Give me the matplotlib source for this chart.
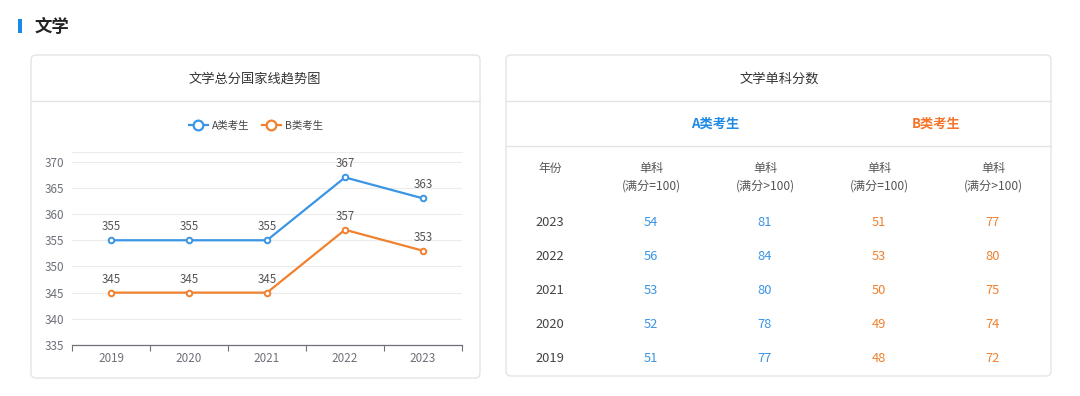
import matplotlib
matplotlib.use('Agg')
import matplotlib.pyplot as plt
from matplotlib.patches import FancyBboxPatch, Rectangle
from matplotlib.lines import Line2D

plt.rcParams['font.family'] = ['Noto Sans CJK SC', 'DejaVu Sans']

# ---- data ----
years = ['2019', '2020', '2021', '2022', '2023']
total_a = [355, 355, 355, 367, 363]
total_b = [345, 345, 345, 357, 353]

table_years = ['2023', '2022', '2021', '2020', '2019']
a_eq100 = [54, 56, 53, 52, 51]
a_gt100 = [81, 84, 80, 78, 77]
b_eq100 = [51, 53, 50, 49, 48]
b_gt100 = [77, 80, 75, 74, 72]

col_heads = ['单科\n(满分=100)', '单科\n(满分>100)', '单科\n(满分=100)', '单科\n(满分>100)']

blue = '#3a95e4'
orange = '#f0812e'
gray_txt = '#6e7079'
border = '#e4e4e4'

W, H = 1080, 396
fig = plt.figure(figsize=(W / 100, H / 100), dpi=100)

# background layer in pixel coords
bg = fig.add_axes([0, 0, 1, 1])
bg.set_xlim(0, W)
bg.set_ylim(H, 0)
bg.axis('off')

bg.add_patch(Rectangle((18, 19), 4, 14, color='#1a88e6', lw=0))
bg.text(35, 27, '文学', fontsize=12.5, fontweight='bold', color='#222222', va='center')

# panels
for x0, x1, y1 in [(31, 480, 378), (506, 1051, 376)]:
    bg.add_patch(FancyBboxPatch((x0, 55), x1 - x0, y1 - 55,
                                boxstyle='round,pad=0,rounding_size=5',
                                fc='white', ec=border, lw=1))
    bg.plot([x0, x1], [101, 101], color=border, lw=1)

bg.text(255, 79, '文学总分国家线趋势图', fontsize=9.5, color='#333333', ha='center', va='center')
bg.text(779, 79, '文学单科分数', fontsize=9.5, color='#333333', ha='center', va='center')

# table
bg.plot([506, 1051], [146, 146], color=border, lw=1)
bg.text(715, 124, 'A类考生', fontsize=9.5, fontweight='bold', color='#1f8ae6', ha='center', va='center')
bg.text(936, 124, 'B类考生', fontsize=9.5, fontweight='bold', color='#f5742a', ha='center', va='center')

col_x = [651, 765, 879, 993]
bg.text(550, 168, '年份', fontsize=8.5, color='#555555', ha='center', va='center')
for cx, head in zip(col_x, col_heads):
    bg.text(cx, 177, head, fontsize=8.7, color='#555555', ha='center', va='center', linespacing=1.45)

row_y = [223, 257, 291, 325, 358]
cols = [(a_eq100, blue), (a_gt100, blue), (b_eq100, orange), (b_gt100, orange)]
for i, yr in enumerate(table_years):
    bg.text(550, row_y[i], yr, fontsize=9.3, color='#444444', ha='center', va='center')
    for cx, (vals, c) in zip(col_x, cols):
        bg.text(cx, row_y[i], str(vals[i]), fontsize=9.3, color=c, ha='center', va='center')

# ---- line chart ----
ymin, ymax = 335, 371.9
px_per = (345 - 161.7) / 35
top_px = 345 - (ymax - ymin) * px_per
ax = fig.add_axes([72 / W, 1 - 345 / H, (462 - 72) / W, (345 - top_px) / H])
ax.set_facecolor('none')

xs = list(range(len(years)))
ax.plot(xs, total_a, color=blue, lw=1.6, marker='o', ms=4, mfc='white', mec=blue, mew=1.4, zorder=3)
ax.plot(xs, total_b, color=orange, lw=1.6, marker='o', ms=4, mfc='white', mec=orange, mew=1.4, zorder=3)
for x, v in zip(xs, total_a):
    ax.annotate(str(v), (x, v), xytext=(0, 5), textcoords='offset points',
                ha='center', va='bottom', fontsize=8.3, color='#555555')
for x, v in zip(xs, total_b):
    ax.annotate(str(v), (x, v), xytext=(0, 5), textcoords='offset points',
                ha='center', va='bottom', fontsize=8.3, color='#555555')

ax.set_xlim(-0.5, len(years) - 0.5)
ax.set_ylim(ymin, ymax)
ax.set_yticks(range(335, 371, 5))
ax.set_xticks(xs)
ax.set_xticklabels(years)
ax.set_xticks([x - 0.5 for x in range(len(years) + 1)], minor=True)
ax.tick_params(axis='x', which='major', length=0, pad=5, labelsize=8.4, labelcolor=gray_txt)
ax.tick_params(axis='x', which='minor', length=4, color=gray_txt, width=0.8)
ax.tick_params(axis='y', length=0, pad=6, labelsize=8.4, labelcolor=gray_txt)
ax.yaxis.grid(True, color='#ececec', lw=0.8)
ax.set_axisbelow(True)
for s in ['left', 'right']:
    ax.spines[s].set_visible(False)
ax.spines['top'].set_color('#ececec')
ax.spines['top'].set_linewidth(0.8)
ax.spines['bottom'].set_color(gray_txt)
ax.spines['bottom'].set_linewidth(0.9)

handles = [Line2D([], [], color=blue, lw=1.6, marker='o', ms=7, mfc='white', mec=blue, mew=1.6),
           Line2D([], [], color=orange, lw=1.6, marker='o', ms=7, mfc='white', mec=orange, mew=1.6)]
ax.legend(handles, ['A类考生', 'B类考生'], loc='center', bbox_to_anchor=(256 / W, 1 - 126 / H),
          bbox_transform=fig.transFigure, ncol=2, frameon=False, fontsize=7.5,
          handlelength=1.8, handletextpad=0.4, columnspacing=1.2, labelcolor='#444444')

fig.savefig('out.png', dpi=100, facecolor='white')
